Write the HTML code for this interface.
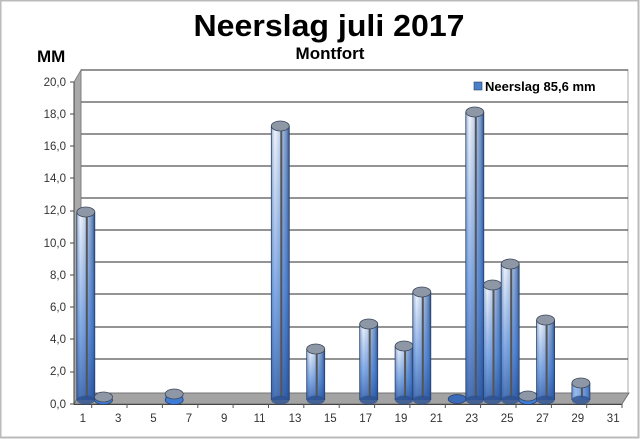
<!DOCTYPE html>
<html><head><meta charset="utf-8"><style>
html,body{margin:0;padding:0;background:#fff}
svg{display:block;font-family:"Liberation Sans",Arial,sans-serif}
</style></head><body>
<svg width="640" height="439" viewBox="0 0 640 439" xmlns="http://www.w3.org/2000/svg">
<defs>
<linearGradient id="h" x1="0" x2="1" y1="0" y2="0">
<stop offset="0" stop-color="#9fb4d2"/><stop offset="0.2" stop-color="#f2f6fc"/><stop offset="0.55" stop-color="#b9cbe6"/><stop offset="0.85" stop-color="#6f8fc0"/><stop offset="1" stop-color="#2c4c80"/>
</linearGradient>
<linearGradient id="v" x1="0" x2="0" y1="0" y2="1">
<stop offset="0" stop-color="#2f6fd0" stop-opacity="0"/><stop offset="0.6" stop-color="#2f6fd0" stop-opacity="0.55"/><stop offset="1" stop-color="#1f4f9f" stop-opacity="0.8"/>
</linearGradient>
</defs>
<rect x="0.5" y="0.5" width="638" height="437" fill="#fff" stroke="#bbb" stroke-width="2"/>
<text x="329" y="36" text-anchor="middle" font-size="31" font-weight="bold" textLength="271" lengthAdjust="spacingAndGlyphs">Neerslag juli 2017</text>
<text x="330" y="59" text-anchor="middle" font-size="17" font-weight="bold">Montfort</text>
<text x="37" y="62" font-size="17" font-weight="bold">MM</text>
<rect x="81" y="70" width="547" height="323" fill="#fff" stroke="#aaa" stroke-width="1"/>
<g stroke="#555" stroke-width="1.3">
<line x1="81" y1="70" x2="628" y2="70"/><line x1="81" y1="102" x2="628" y2="102"/><line x1="81" y1="134" x2="628" y2="134"/><line x1="81" y1="166" x2="628" y2="166"/><line x1="81" y1="198" x2="628" y2="198"/><line x1="81" y1="230" x2="628" y2="230"/><line x1="81" y1="262" x2="628" y2="262"/><line x1="81" y1="294" x2="628" y2="294"/><line x1="81" y1="327" x2="628" y2="327"/><line x1="81" y1="359" x2="628" y2="359"/>
</g>
<polygon points="74,82 81,70 81,393 74,404" fill="#a9a9a9" stroke="#777" stroke-width="0.8"/>
<polygon points="74,404 81,393 629,393 622,404" fill="#a3a3a3" stroke="#666" stroke-width="0.8"/>
<line x1="74" y1="404.5" x2="622" y2="404.5" stroke="#444" stroke-width="1"/>
<line x1="74" y1="82" x2="74" y2="404" stroke="#444" stroke-width="1"/>
<g font-size="11.5" fill="#333" text-anchor="end">
<text x="66" y="86">20,0</text><text x="66" y="118">18,0</text><text x="66" y="150">16,0</text><text x="66" y="182">14,0</text><text x="66" y="214">12,0</text><text x="66" y="247">10,0</text><text x="66" y="279">8,0</text><text x="66" y="311">6,0</text><text x="66" y="343">4,0</text><text x="66" y="375">2,0</text><text x="66" y="408">0,0</text>
</g>
<g stroke="#444" stroke-width="1">
<line x1="70" y1="82" x2="74" y2="82"/><line x1="70" y1="114" x2="74" y2="114"/><line x1="70" y1="146" x2="74" y2="146"/><line x1="70" y1="178" x2="74" y2="178"/><line x1="70" y1="211" x2="74" y2="211"/><line x1="70" y1="243" x2="74" y2="243"/><line x1="70" y1="275" x2="74" y2="275"/><line x1="70" y1="307" x2="74" y2="307"/><line x1="70" y1="339" x2="74" y2="339"/><line x1="70" y1="372" x2="74" y2="372"/><line x1="70" y1="404" x2="74" y2="404"/>
</g>
<g stroke="#555" stroke-width="1">
<line x1="91.7" y1="404" x2="91.7" y2="408"/><line x1="127" y1="404" x2="127" y2="408"/><line x1="162.4" y1="404" x2="162.4" y2="408"/><line x1="197.8" y1="404" x2="197.8" y2="408"/><line x1="233.1" y1="404" x2="233.1" y2="408"/><line x1="268.5" y1="404" x2="268.5" y2="408"/><line x1="303.8" y1="404" x2="303.8" y2="408"/><line x1="339.2" y1="404" x2="339.2" y2="408"/><line x1="374.6" y1="404" x2="374.6" y2="408"/><line x1="409.9" y1="404" x2="409.9" y2="408"/><line x1="445.3" y1="404" x2="445.3" y2="408"/><line x1="480.6" y1="404" x2="480.6" y2="408"/><line x1="516" y1="404" x2="516" y2="408"/><line x1="551.4" y1="404" x2="551.4" y2="408"/><line x1="586.7" y1="404" x2="586.7" y2="408"/><line x1="622" y1="404" x2="622" y2="408"/>
</g>
<g font-size="11.5" fill="#333" text-anchor="middle">
<text x="82.8" y="422">1</text><text x="118.2" y="422">3</text><text x="153.5" y="422">5</text><text x="188.9" y="422">7</text><text x="224.2" y="422">9</text><text x="259.6" y="422">11</text><text x="295" y="422">13</text><text x="330.3" y="422">15</text><text x="365.7" y="422">17</text><text x="401" y="422">19</text><text x="436.4" y="422">21</text><text x="471.8" y="422">23</text><text x="507.1" y="422">25</text><text x="542.5" y="422">27</text><text x="577.8" y="422">29</text><text x="613.2" y="422">31</text>
</g>
<g stroke="#2a3f66" stroke-width="0.8">
<ellipse cx="457.2" cy="399" rx="9" ry="4.5" fill="#3a6ab8"/>
</g>
<g>
<g transform="translate(85.8,0)"><rect x="-9" y="212" width="18" height="188" fill="url(#h)"/><rect x="-9" y="212" width="18" height="188" fill="url(#v)"/><line x1="1" y1="212" x2="1" y2="398" stroke="#555" stroke-width="2"/><ellipse cx="0" cy="400" rx="9" ry="4.5" fill="#2d5190" opacity="0.8"/><ellipse cx="0" cy="212" rx="9" ry="5" fill="#8d97a6" stroke="#3e4a5c" stroke-width="0.8"/><line x1="-9" y1="212" x2="-9" y2="400" stroke="#2a3f66" stroke-width="0.8"/><line x1="9" y1="212" x2="9" y2="400" stroke="#2a3f66" stroke-width="0.8"/></g>
<g transform="translate(103.5,0)"><rect x="-9" y="397" width="18" height="3" fill="#3f7bd6"/><ellipse cx="0" cy="400" rx="9" ry="4.5" fill="#3f7bd6" stroke="#2a3f66" stroke-width="0.8"/><ellipse cx="0" cy="397" rx="9" ry="5" fill="#8d97a6" stroke="#3e4a5c" stroke-width="0.8"/></g>
<g transform="translate(174.2,0)"><rect x="-9" y="394" width="18" height="6" fill="#3f7bd6"/><ellipse cx="0" cy="400" rx="9" ry="4.5" fill="#3f7bd6" stroke="#2a3f66" stroke-width="0.8"/><ellipse cx="0" cy="394" rx="9" ry="5" fill="#8d97a6" stroke="#3e4a5c" stroke-width="0.8"/></g>
<g transform="translate(280.3,0)"><rect x="-9" y="126" width="18" height="274" fill="url(#h)"/><rect x="-9" y="126" width="18" height="274" fill="url(#v)"/><line x1="1" y1="126" x2="1" y2="398" stroke="#555" stroke-width="2"/><ellipse cx="0" cy="400" rx="9" ry="4.5" fill="#2d5190" opacity="0.8"/><ellipse cx="0" cy="126" rx="9" ry="5" fill="#8d97a6" stroke="#3e4a5c" stroke-width="0.8"/><line x1="-9" y1="126" x2="-9" y2="400" stroke="#2a3f66" stroke-width="0.8"/><line x1="9" y1="126" x2="9" y2="400" stroke="#2a3f66" stroke-width="0.8"/></g>
<g transform="translate(315.7,0)"><rect x="-9" y="349" width="18" height="51" fill="url(#h)"/><rect x="-9" y="349" width="18" height="51" fill="url(#v)"/><line x1="1" y1="349" x2="1" y2="398" stroke="#555" stroke-width="2"/><ellipse cx="0" cy="400" rx="9" ry="4.5" fill="#2d5190" opacity="0.8"/><ellipse cx="0" cy="349" rx="9" ry="5" fill="#8d97a6" stroke="#3e4a5c" stroke-width="0.8"/><line x1="-9" y1="349" x2="-9" y2="400" stroke="#2a3f66" stroke-width="0.8"/><line x1="9" y1="349" x2="9" y2="400" stroke="#2a3f66" stroke-width="0.8"/></g>
<g transform="translate(368.7,0)"><rect x="-9" y="324" width="18" height="76" fill="url(#h)"/><rect x="-9" y="324" width="18" height="76" fill="url(#v)"/><line x1="1" y1="324" x2="1" y2="398" stroke="#555" stroke-width="2"/><ellipse cx="0" cy="400" rx="9" ry="4.5" fill="#2d5190" opacity="0.8"/><ellipse cx="0" cy="324" rx="9" ry="5" fill="#8d97a6" stroke="#3e4a5c" stroke-width="0.8"/><line x1="-9" y1="324" x2="-9" y2="400" stroke="#2a3f66" stroke-width="0.8"/><line x1="9" y1="324" x2="9" y2="400" stroke="#2a3f66" stroke-width="0.8"/></g>
<g transform="translate(404.1,0)"><rect x="-9" y="346" width="18" height="54" fill="url(#h)"/><rect x="-9" y="346" width="18" height="54" fill="url(#v)"/><line x1="1" y1="346" x2="1" y2="398" stroke="#555" stroke-width="2"/><ellipse cx="0" cy="400" rx="9" ry="4.5" fill="#2d5190" opacity="0.8"/><ellipse cx="0" cy="346" rx="9" ry="5" fill="#8d97a6" stroke="#3e4a5c" stroke-width="0.8"/><line x1="-9" y1="346" x2="-9" y2="400" stroke="#2a3f66" stroke-width="0.8"/><line x1="9" y1="346" x2="9" y2="400" stroke="#2a3f66" stroke-width="0.8"/></g>
<g transform="translate(421.8,0)"><rect x="-9" y="292" width="18" height="108" fill="url(#h)"/><rect x="-9" y="292" width="18" height="108" fill="url(#v)"/><line x1="1" y1="292" x2="1" y2="398" stroke="#555" stroke-width="2"/><ellipse cx="0" cy="400" rx="9" ry="4.5" fill="#2d5190" opacity="0.8"/><ellipse cx="0" cy="292" rx="9" ry="5" fill="#8d97a6" stroke="#3e4a5c" stroke-width="0.8"/><line x1="-9" y1="292" x2="-9" y2="400" stroke="#2a3f66" stroke-width="0.8"/><line x1="9" y1="292" x2="9" y2="400" stroke="#2a3f66" stroke-width="0.8"/></g>
<g transform="translate(474.8,0)"><rect x="-9" y="112" width="18" height="288" fill="url(#h)"/><rect x="-9" y="112" width="18" height="288" fill="url(#v)"/><line x1="1" y1="112" x2="1" y2="398" stroke="#555" stroke-width="2"/><ellipse cx="0" cy="400" rx="9" ry="4.5" fill="#2d5190" opacity="0.8"/><ellipse cx="0" cy="112" rx="9" ry="5" fill="#8d97a6" stroke="#3e4a5c" stroke-width="0.8"/><line x1="-9" y1="112" x2="-9" y2="400" stroke="#2a3f66" stroke-width="0.8"/><line x1="9" y1="112" x2="9" y2="400" stroke="#2a3f66" stroke-width="0.8"/></g>
<g transform="translate(492.5,0)"><rect x="-9" y="285" width="18" height="115" fill="url(#h)"/><rect x="-9" y="285" width="18" height="115" fill="url(#v)"/><line x1="1" y1="285" x2="1" y2="398" stroke="#555" stroke-width="2"/><ellipse cx="0" cy="400" rx="9" ry="4.5" fill="#2d5190" opacity="0.8"/><ellipse cx="0" cy="285" rx="9" ry="5" fill="#8d97a6" stroke="#3e4a5c" stroke-width="0.8"/><line x1="-9" y1="285" x2="-9" y2="400" stroke="#2a3f66" stroke-width="0.8"/><line x1="9" y1="285" x2="9" y2="400" stroke="#2a3f66" stroke-width="0.8"/></g>
<g transform="translate(510.2,0)"><rect x="-9" y="264" width="18" height="136" fill="url(#h)"/><rect x="-9" y="264" width="18" height="136" fill="url(#v)"/><line x1="1" y1="264" x2="1" y2="398" stroke="#555" stroke-width="2"/><ellipse cx="0" cy="400" rx="9" ry="4.5" fill="#2d5190" opacity="0.8"/><ellipse cx="0" cy="264" rx="9" ry="5" fill="#8d97a6" stroke="#3e4a5c" stroke-width="0.8"/><line x1="-9" y1="264" x2="-9" y2="400" stroke="#2a3f66" stroke-width="0.8"/><line x1="9" y1="264" x2="9" y2="400" stroke="#2a3f66" stroke-width="0.8"/></g>
<g transform="translate(527.9,0)"><rect x="-9" y="396" width="18" height="4" fill="#3f7bd6"/><ellipse cx="0" cy="400" rx="9" ry="4.5" fill="#3f7bd6" stroke="#2a3f66" stroke-width="0.8"/><ellipse cx="0" cy="396" rx="9" ry="5" fill="#8d97a6" stroke="#3e4a5c" stroke-width="0.8"/></g>
<g transform="translate(545.6,0)"><rect x="-9" y="320" width="18" height="80" fill="url(#h)"/><rect x="-9" y="320" width="18" height="80" fill="url(#v)"/><line x1="1" y1="320" x2="1" y2="398" stroke="#555" stroke-width="2"/><ellipse cx="0" cy="400" rx="9" ry="4.5" fill="#2d5190" opacity="0.8"/><ellipse cx="0" cy="320" rx="9" ry="5" fill="#8d97a6" stroke="#3e4a5c" stroke-width="0.8"/><line x1="-9" y1="320" x2="-9" y2="400" stroke="#2a3f66" stroke-width="0.8"/><line x1="9" y1="320" x2="9" y2="400" stroke="#2a3f66" stroke-width="0.8"/></g>
<g transform="translate(580.9,0)"><rect x="-9" y="383" width="18" height="17" fill="url(#h)"/><rect x="-9" y="383" width="18" height="17" fill="#3f7bd6" opacity="0.5"/><line x1="1" y1="383" x2="1" y2="398" stroke="#555" stroke-width="2"/><ellipse cx="0" cy="400" rx="9" ry="4.5" fill="#2d5190" opacity="0.8"/><ellipse cx="0" cy="383" rx="9" ry="5" fill="#8d97a6" stroke="#3e4a5c" stroke-width="0.8"/><line x1="-9" y1="383" x2="-9" y2="400" stroke="#2a3f66" stroke-width="0.8"/><line x1="9" y1="383" x2="9" y2="400" stroke="#2a3f66" stroke-width="0.8"/></g>
</g>
<rect x="474" y="82" width="8" height="8" fill="#4a7fc8" stroke="#2a3f66" stroke-width="0.6"/>
<text x="485" y="91" font-size="13" font-weight="bold" fill="#000">Neerslag 85,6 mm</text>
</svg>
</body></html>
